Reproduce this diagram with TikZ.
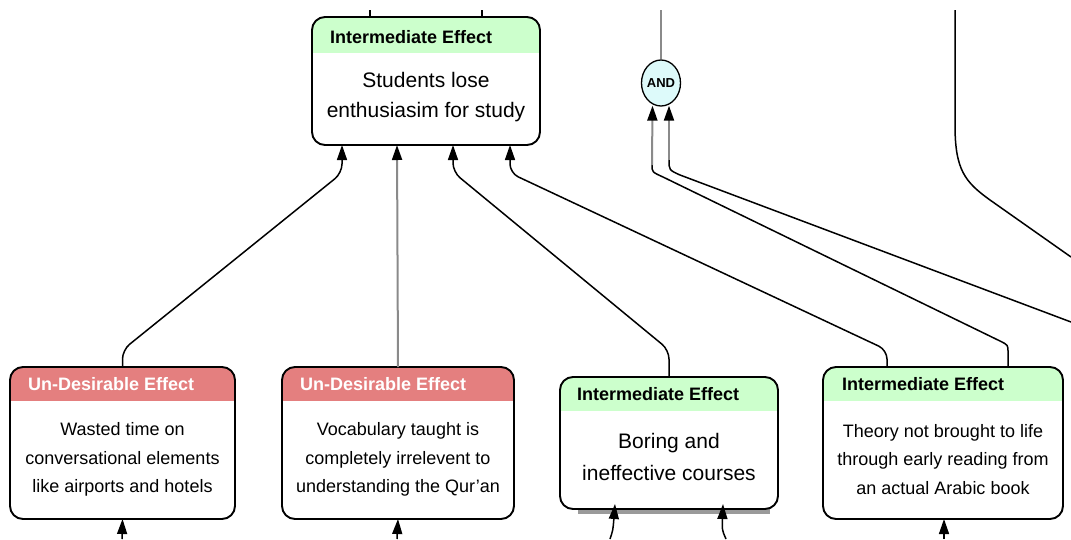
\documentclass[tikz,border=0pt]{standalone}
\usepackage{fontspec}
\setmainfont{Liberation Sans}
\usetikzlibrary{arrows.meta,shapes.geometric}
\definecolor{hdrgreen}{HTML}{CCFFCC}
\definecolor{hdrred}{HTML}{E47F7F}
\definecolor{andfill}{HTML}{DDFAFA}
\definecolor{lgray}{HTML}{8A8A8A}
\definecolor{shadowgray}{HTML}{9A9A9A}
\tikzset{
  box/.style={draw=black, line width=1.9pt, rounded corners=13pt, fill=white, inner sep=0pt, outer sep=0pt},
  greenhdr/.style={path picture={\fill[hdrgreen, sharp corners] ([yshift=2pt]path picture bounding box.north west) rectangle ([yshift=-#1]path picture bounding box.north east);}},
  redhdr/.style={path picture={\fill[hdrred, sharp corners] ([yshift=2pt]path picture bounding box.north west) rectangle ([yshift=-#1]path picture bounding box.north east);}},
  hdrtext/.style={anchor=west, inner sep=0pt, font=\bfseries\fontsize{18}{20}\selectfont},
  body/.style={align=center, inner sep=0pt, font=\fontsize{18}{28.5}\selectfont},
  conn/.style={line width=1.5pt, black, rounded corners=9pt},
  tip/.style={-{Triangle[length=15pt,width=10pt]}},
  arr/.style={conn, tip},
  gconn/.style={line width=2pt, lgray},
  garr/.style={gconn, -{Triangle[length=15pt,width=10pt,color=black]}},
}
\begin{document}
\begin{tikzpicture}[x=1pt,y=-1pt]
\useasboundingbox (0,0) rectangle (1071,539);

% boxes
\node[box, greenhdr=36pt, minimum width=228pt, minimum height=128pt] (top) at (426,81) {};
\node[hdrtext] (tophdr) at ([xshift=18pt,yshift=-20pt]top.north west) {Intermediate Effect};
\node[body, font=\fontsize{21}{30}\selectfont] (topbody) at (426,97) {Students lose\\enthusiasim for study};

\node[box, redhdr=34pt, minimum width=225pt, minimum height=152pt] (b1) at (122.5,443) {};
\node[hdrtext, text=white] (b1hdr) at ([xshift=18pt,yshift=-17pt]b1.north west) {Un-Desirable Effect};
\node[body] (b1body) at (122.5,459.5) {Wasted time on\\conversational elements\\like airports and hotels};

\node[box, redhdr=34pt, minimum width=232pt, minimum height=152pt] (b2) at (398,443) {};
\node[hdrtext, text=white] (b2hdr) at ([xshift=18pt,yshift=-17pt]b2.north west) {Un-Desirable Effect};
\node[body] (b2body) at (398,459.5) {Vocabulary taught is\\completely irrelevent to\\understanding the Qur'an};

\fill[shadowgray] (578,505) rectangle (770,514);
\node[box, greenhdr=34pt, minimum width=218pt, minimum height=132pt] (b3) at (669,443) {};
\node[hdrtext] (b3hdr) at ([xshift=17pt,yshift=-17pt]b3.north west) {Intermediate Effect};
\node[body, font=\fontsize{21}{32}\selectfont] (b3body) at (669,457) {Boring and\\ineffective courses};

\node[box, greenhdr=34pt, minimum width=240pt, minimum height=152pt] (b4) at (943,443) {};
\node[hdrtext] (b4hdr) at ([xshift=19pt,yshift=-17pt]b4.north west) {Intermediate Effect};
\node[body] (b4body) at (943,459.5) {Theory not brought to life\\through early reading from\\an actual Arabic book};

% AND junction
\node[ellipse, draw=black, line width=1.3pt, fill=andfill, minimum width=39pt, minimum height=46pt, inner sep=0pt] (and) at (661,83) {};
\node[inner sep=0pt, font=\bfseries\fontsize{13}{14}\selectfont] (andtxt) at (and.center) {AND};

% off-picture ends
\coordinate (t1) at (370,10);
\coordinate (t2) at (482,10);
\coordinate (tand) at (661,10);
\coordinate (tr) at (955,10);
\coordinate (er) at (1071,257);
\coordinate (eand) at (1071,322);
\coordinate (aL) at (652,165);
\coordinate (aR) at (669,160);
\coordinate (u1) at (122,539);
\coordinate (u2) at (397,539);
\coordinate (u3) at (610,539);
\coordinate (u4) at (726,539);
\coordinate (u5) at (944,539);

% connectors into the top box
\draw[conn] (t1) -- ([xshift=-56pt]top.north);
\draw[conn] (t2) -- ([xshift=56pt]top.north);
\draw[arr] (b1.north) -- ++(0,-17) -- ([xshift=-84pt,yshift=-28pt]top.south) -- ([xshift=-84pt]top.south);
\draw[garr] (b2.north) -- ([xshift=-29pt]top.south);
\draw[arr] (b3.north) -- ++(0,-27) -- ([xshift=27pt,yshift=-27pt]top.south) -- ([xshift=27pt]top.south);
\draw[arr] ([xshift=-56pt]b4.north) -- ++(0,-17) -- ([xshift=84pt,yshift=-28pt]top.south) -- ([xshift=84pt]top.south);

% AND junction connectors
\draw[gconn] (and.north) -- (tand);
\draw[line width=1.5pt] ([xshift=65pt]b4.north) -- (1008,352) .. controls (1008,345) .. (1000,341)
      -- (663,177) .. controls (652,172) .. (aL);
\draw[garr] (aL) -- ([xshift=-8.5pt,yshift=1pt]and.south);
\draw[line width=1.5pt] (eand) -- (680,175) .. controls (669,170) .. (aR);
\draw[garr] (aR) -- ([xshift=8pt,yshift=1pt]and.south);

% right-hand line
\draw[line width=1.5pt] (tr) -- (955,125) .. controls (955,170) and (965,182) .. (990,200) -- (er);

% arrows into the boxes from below
\draw[arr] (u1) -- (b1.south);
\draw[arr] (u2) -- (b2.south);
\draw[line width=1.5pt, tip] (u3) .. controls (613,530) .. ([xshift=-54pt,yshift=5pt]b3.south);
\draw[line width=1.5pt, tip] (u4) .. controls (722,530) .. ([xshift=54pt,yshift=5pt]b3.south);
\draw[arr] (u5) -- ([xshift=1pt]b4.south);
\end{tikzpicture}
\end{document}
